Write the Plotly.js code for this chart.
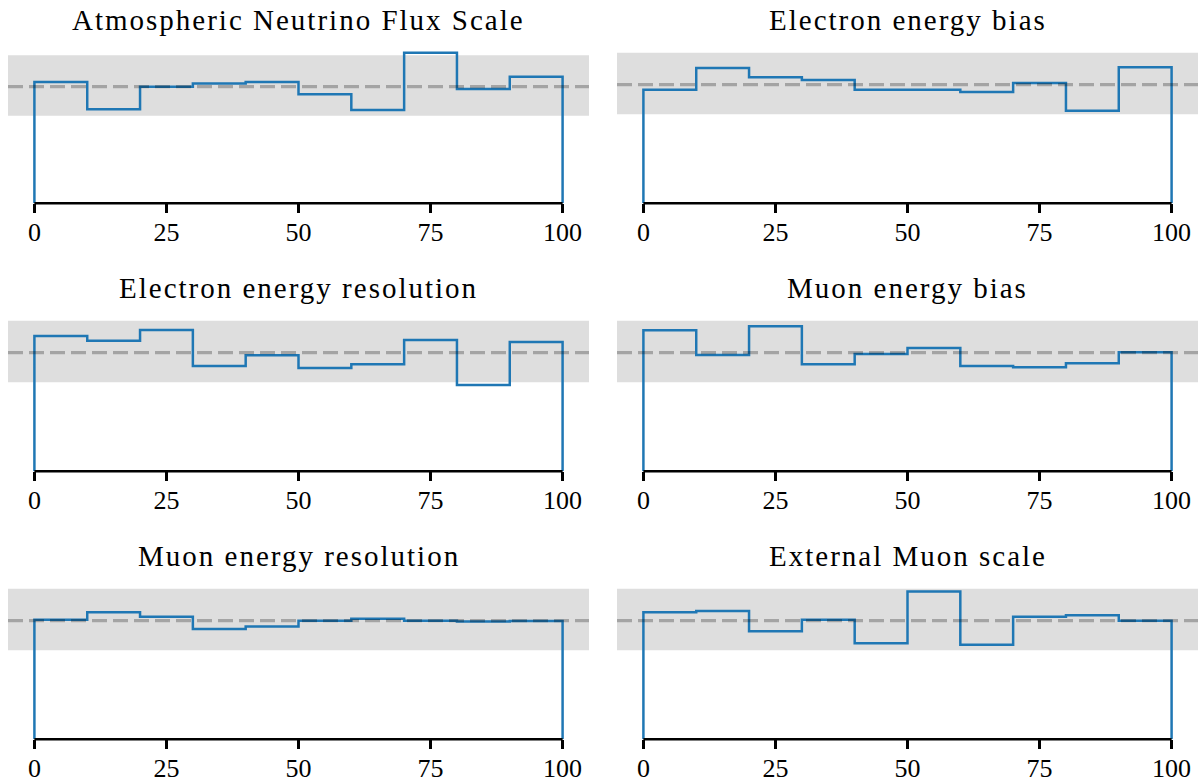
<!DOCTYPE html>
<html>
<head>
<meta charset="utf-8">
<script src="https://cdn.plot.ly/plotly-3.0.1.min.js"></script>
<style>
  html, body { margin: 0; padding: 0; background: #ffffff; }
  #chart { width: 1202px; height: 784px; }
  .annotation-text { letter-spacing: 2px; }
</style>
</head>
<body>
<div id="chart"></div>
<script>
// ---- data ----
const binEdges = [0, 10, 20, 30, 40, 50, 60, 70, 80, 90, 100];
const tickValues = [0, 25, 50, 75, 100];
const tickLabels = ["0", "25", "50", "75", "100"];
const panelTitles = [
  "Atmospheric Neutrino Flux Scale",
  "Electron energy bias",
  "Electron energy resolution",
  "Muon energy bias",
  "Muon energy resolution",
  "External Muon scale"
];
const atmFluxScale   = [1.040, 0.806, 1.000, 1.028, 1.040, 0.935, 0.800, 1.292, 0.980, 1.086];
const electronBias   = [0.958, 1.141, 1.062, 1.040, 0.958, 0.958, 0.938, 1.014, 0.781, 1.147];
const electronRes    = [1.141, 1.101, 1.191, 0.888, 0.978, 0.871, 0.902, 1.107, 0.728, 1.090];
const muonBias       = [1.189, 0.981, 1.223, 0.902, 0.989, 1.040, 0.888, 0.877, 0.911, 1.003];
const muonRes        = [1.008, 1.070, 1.034, 0.929, 0.950, 1.000, 1.017, 1.000, 0.992, 0.997];
const externalMuon   = [1.070, 1.081, 0.910, 1.008, 0.810, 1.246, 0.798, 1.034, 1.045, 1.000];
const panelValues = [atmFluxScale, electronBias, electronRes, muonBias, muonRes, externalMuon];
const referenceLevel = 1.0;
const bandLow = 0.75;
const bandHigh = 1.27;

// ---- layout geometry (pixels) ----
const W = 1202, H = 784;
const colLeft = [8, 617], colWidth = 581;
const rowBottom = [203.3, 471.3, 739.3], rowHeight = 158.2;
const TICKLEN = 9;
const X_RANGE = [-5, 105];
const FONT = "'Liberation Serif', 'Times New Roman', serif";

const traces = [];
const layout = {
  width: W, height: H,
  margin: {l: 0, r: 0, t: 0, b: 0},
  paper_bgcolor: "#ffffff",
  plot_bgcolor: "rgba(0,0,0,0)",
  showlegend: false,
  font: {family: FONT, size: 26, color: "#000000"},
  shapes: [],
  annotations: []
};

for (let p = 0; p < 6; p++) {
  const row = Math.floor(p / 2), col = p % 2;
  const idx = p === 0 ? "" : String(p + 1);
  const xa = "x" + idx, ya = "y" + idx;
  const vals = panelValues[p];

  // step histogram outline
  const xs = [binEdges[0]], ys = [0];
  for (let i = 0; i < vals.length; i++) { xs.push(binEdges[i]); ys.push(vals[i]); }
  xs.push(binEdges[binEdges.length - 1]); ys.push(vals[vals.length - 1]);
  xs.push(binEdges[binEdges.length - 1]); ys.push(0);
  traces.push({
    type: "scatter", mode: "lines", x: xs, y: ys,
    xaxis: xa, yaxis: ya,
    line: {shape: "hv", color: "#1f77b4", width: 2.5},
    cliponaxis: false, hoverinfo: "skip"
  });

  const x0 = colLeft[col] / W, x1 = (colLeft[col] + colWidth) / W;
  const yb = 1 - rowBottom[row] / H, yt = 1 - (rowBottom[row] - rowHeight) / H;
  const yTop = Math.max(bandHigh, ...vals) * 1.05;
  // paper x position of a value on this panel's x axis
  const xPaper = function (v) {
    return x0 + (x1 - x0) * (v - X_RANGE[0]) / (X_RANGE[1] - X_RANGE[0]);
  };

  layout["xaxis" + idx] = {
    domain: [x0, x1], anchor: ya, range: X_RANGE.slice(),
    tickvals: tickValues, ticktext: tickLabels,
    ticks: "outside", ticklen: TICKLEN, tickwidth: 2.4, tickcolor: "#000000",
    ticklabelstandoff: -4,
    showgrid: false, zeroline: false, showline: false,
    tickfont: {family: FONT, size: 26, color: "#000000"},
    fixedrange: true
  };
  layout["yaxis" + idx] = {
    domain: [yb, yt], anchor: xa, range: [0, yTop],
    showticklabels: false, ticks: "", showline: false,
    showgrid: false, zeroline: false, fixedrange: true
  };

  // uncertainty band
  layout.shapes.push({
    type: "rect", xref: xa + " domain", yref: ya,
    x0: 0, x1: 1, y0: bandLow, y1: bandHigh,
    fillcolor: "#dedede", line: {width: 0}, layer: "below"
  });
  // reference dashed line
  layout.shapes.push({
    type: "line", xref: xa + " domain", yref: ya,
    x0: 0, x1: 1, y0: referenceLevel, y1: referenceLevel,
    line: {color: "rgba(0,0,0,0.26)", width: 3.2, dash: "15px,6px"}, layer: "above"
  });
  // bottom spine limited to the data range [0, 100]
  layout.shapes.push({
    type: "line", xref: "paper", yref: "paper",
    x0: xPaper(binEdges[0]), x1: xPaper(binEdges[binEdges.length - 1]), y0: yb, y1: yb,
    line: {color: "#000000", width: 2.6}, layer: "above"
  });

  // panel title
  layout.annotations.push({
    text: panelTitles[p], xref: "paper", yref: "paper",
    x: (x0 + x1) / 2, y: 1 - (rowBottom[row] - rowHeight - 25) / H,
    xanchor: "center", yanchor: "middle", showarrow: false,
    font: {family: FONT, size: 29, color: "#000000"}
  });
}

Plotly.newPlot("chart", traces, layout, {displayModeBar: false, staticPlot: true});
</script>
</body>
</html>
